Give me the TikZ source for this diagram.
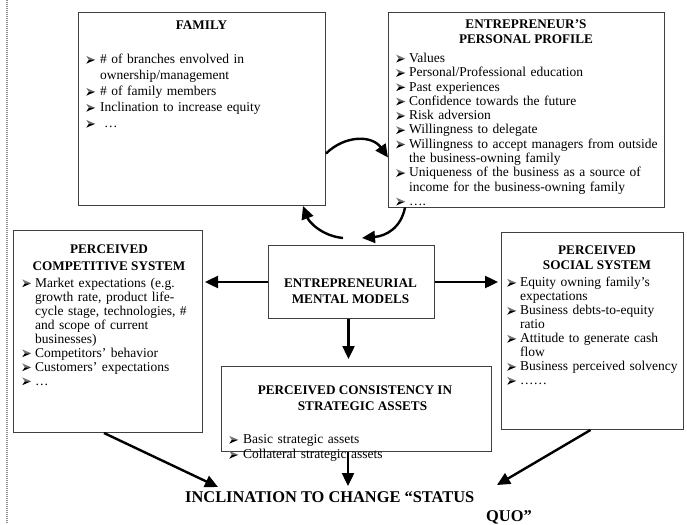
\documentclass[tikz,border=0pt]{standalone}
\usepackage{fontspec}
\setmainfont{Liberation Serif}
\usetikzlibrary{arrows.meta}

% arrowhead bullet: light upper half, dark lower half
\newcommand\arrowbullet{%
  \begin{pgfpicture}
    \pgfsetcolor{black!55}%
    \pgfpathmoveto{\pgfpoint{0pt}{7.8pt}}%
    \pgfpathlineto{\pgfpoint{9pt}{3.9pt}}%
    \pgfpathlineto{\pgfpoint{2.6pt}{3.9pt}}%
    \pgfpathclose\pgfusepath{fill}%
    \pgfsetcolor{black}%
    \pgfpathmoveto{\pgfpoint{0pt}{0pt}}%
    \pgfpathlineto{\pgfpoint{9pt}{3.9pt}}%
    \pgfpathlineto{\pgfpoint{2.6pt}{3.9pt}}%
    \pgfpathclose\pgfusepath{fill}%
  \end{pgfpicture}}

% bulleted item with hanging indent; \bulw is the bullet column width
\newlength\bulw
\setlength\bulw{13pt}
\newcommand\bitem[1]{\par\hangindent=\bulw\hangafter=1\noindent\strut
  \makebox[\bulw][l]{\arrowbullet}#1}

\begin{document}
\begin{tikzpicture}[x=1pt,y=-1pt,
  box/.style={draw=black!75, line width=1pt, inner sep=0pt, anchor=north west},
  ttl/.style={anchor=base, inner sep=0pt, font=\bfseries\fontsize{13.2}{15}\selectfont},
  lst/.style={anchor=north west, inner sep=0pt, align=left, text width=300pt,
              font=\fontsize{13.5}{#1}\selectfont},
  arr/.style={line width=2.4pt, -{Triangle[length=13pt,width=12pt]}},
  big/.style={anchor=base west, inner sep=0pt, font=\bfseries\fontsize{16.4}{18}\selectfont}]
\useasboundingbox (0,0) rectangle (687,524);

% margin rule
\draw[black!45, line width=2pt, dash pattern=on 1pt off 1pt] (7,0) -- (7,524);

% frames
\node[box, minimum width=247pt, minimum height=193pt] (family) at (78,12) {};
\node[box, minimum width=276pt, minimum height=194pt] (ent) at (388,12.5) {};
\node[box, minimum width=189pt, minimum height=202pt] (comp) at (13,230) {};
\node[box, minimum width=182pt, minimum height=197pt] (social) at (501,232) {};
\node[box, minimum width=166pt, minimum height=73pt] (mental) at (268,245) {};
\node[box, minimum width=270pt, minimum height=85pt] (consist) at (221,366) {};

% headings
\node[ttl] (famT) at (201.5,29.5) {FAMILY};
\node[ttl] (entT1) at (526,29) {ENTREPRENEUR’S};
\node[ttl] (entT2) at (526,44) {PERSONAL PROFILE};
\node[ttl] (compT1) at (109,253) {PERCEIVED};
\node[ttl] (compT2) at (109,270) {COMPETITIVE SYSTEM};
\node[ttl] (socT1) at (597,254) {PERCEIVED};
\node[ttl] (socT2) at (597,269) {SOCIAL SYSTEM};
\node[ttl] (menT1) at (350.5,287) {ENTREPRENEURIAL};
\node[ttl] (menT2) at (350.5,303) {MENTAL MODELS};
\node[ttl] (conT1) at (355,394) {PERCEIVED CONSISTENCY IN};
\node[ttl] (conT2) at (362.5,410) {STRATEGIC ASSETS};

% item lists
\node[lst=16] (famL) at (86,47.5) {\setlength\bulw{14pt}%
  \bitem{\# of branches envolved in\newline ownership/management}
  \bitem{\# of family members}
  \bitem{Inclination to increase equity}
  \bitem{\hspace{4pt}…}};
\node[lst=14.3] (entL) at (396,48) {%
  \bitem{Values}
  \bitem{Personal/Professional education}
  \bitem{Past experiences}
  \bitem{Confidence towards the future}
  \bitem{Risk adversion}
  \bitem{Willingness to delegate}
  \bitem{Willingness to accept managers from outside\newline the business-owning family}
  \bitem{Uniqueness of the business as a source of\newline income for the business-owning family}
  \bitem{….}};
\node[lst=14] (compL) at (22,273) {%
  \bitem{Market expectations (e.g.\newline growth rate, product life-\newline cycle stage, technologies, \#\newline and scope of current\newline businesses)}
  \bitem{Competitors’ behavior}
  \bitem{Customers’ expectations}
  \bitem{…}};
\node[lst=14] (socL) at (507,272.5) {%
  \bitem{Equity owning family’s\newline expectations}
  \bitem{Business debts-to-equity\newline ratio}
  \bitem{Attitude to generate cash\newline flow}
  \bitem{Business perceived solvency}
  \bitem{……}};
\node[lst=15] (conL) at (229,428.5) {\setlength\bulw{14pt}%
  \bitem{Basic strategic assets}
  \bitem{Collateral strategic assets}};

% outcome
\node[big] (incl) at (185,502) {INCLINATION TO CHANGE “STATUS};
\node[big] (incl2) at (486,521) {QUO”};

% arrow ends
\coordinate (loopR) at (362,238);
\coordinate (loopL) at (343,238);
\coordinate (tipL) at (218,487);
\coordinate (tipM) at (348,486);
\coordinate (tipR) at (497,485);

% feedback loop between family, profile and mental models
\draw[arr] ([yshift=-44.5pt]family.east) .. controls (345,135) and (372,135) .. ([yshift=-47.5pt]ent.west);
\draw[arr] ([xshift=17pt]ent.south west) .. controls (401,228) and (386,236) .. (loopR);
\draw[arr] (loopL) .. controls (322,236) and (309,222) .. ([xshift=-23pt]family.south east);

% from mental models
\draw[arr, shorten >=2pt] (mental.west) -- (comp.east |- mental.west);
\draw[arr, shorten >=3pt] (mental.east) -- (social.west |- mental.east);
\draw[arr, shorten >=7pt] ([xshift=-3pt]mental.south) -- ([xshift=-3pt]mental.south |- consist.north);

% towards the outcome
\draw[arr] (tipM |- consist.south) -- (tipM);
\draw[arr] ([xshift=-4pt]comp.south) -- (tipL);
\draw[arr] ([xshift=-2pt]social.south) -- (tipR);
\end{tikzpicture}
\end{document}
